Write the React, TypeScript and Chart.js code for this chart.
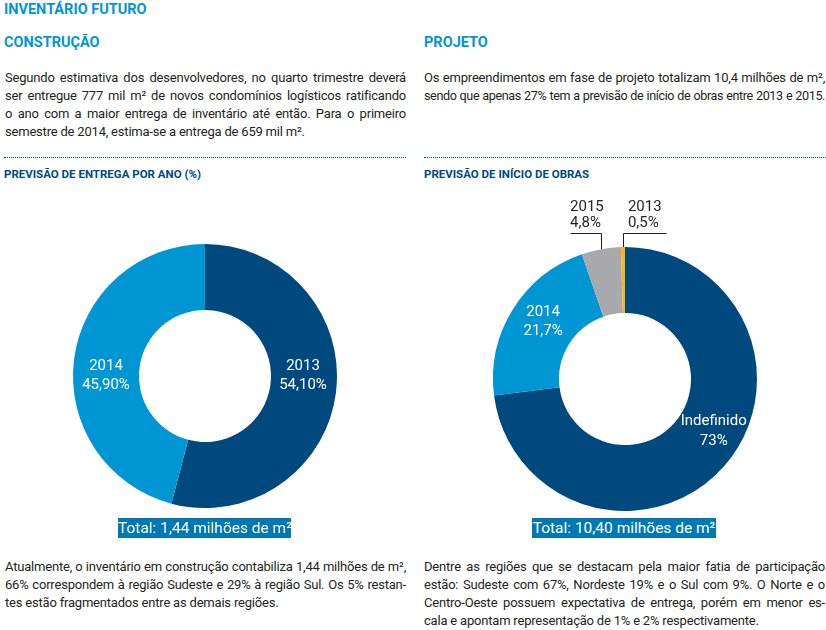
import React, { useEffect, useRef } from "react";
import { Chart, registerables } from "chart.js";

Chart.register(...registerables);

// ---------- data ----------
const entregaLabels = ["2013", "2014"];
const entregaValues = [54.1, 45.9];
const entregaDisplay = ["54,10%", "45,90%"];

const inicioLabels = ["Indefinido", "2014", "2015", "2013"];
const inicioValues = [73, 21.7, 4.8, 0.5];
const inicioDisplay = ["73%", "21,7%", "4,8%", "0,5%"];

const entregaTotal = "Total: 1,44 milhões de m²";
const inicioTotal = "Total: 10,40 milhões de m²";

// ---------- styles ----------
const DARK = "#00497f";
const LIGHT = "#0096d3";
const GRAY = "#a7a9ac";
const ORANGE = "#fbb519";
const BOX = "#0079b2";
const TEXT = "#231f20";
const FONT = "Roboto, 'Noto Sans', sans-serif";

type Placement =
  | { mode: "inside"; angle?: number; radius?: number; gap: number }
  | { mode: "callout"; side: number; reach: number; rise: number };

function labelPlugin(labels: string[], display: string[], placements: Placement[]) {
  return {
    id: "sliceLabels",
    afterDatasetsDraw(chart: any) {
      const meta = chart.getDatasetMeta(0);
      const ctx: CanvasRenderingContext2D = chart.ctx;
      meta.data.forEach((arc: any, i: number) => {
        const p = placements[i];
        if (!p) return;
        const { x, y, startAngle, endAngle, innerRadius, outerRadius } = arc.getProps(
          ["x", "y", "startAngle", "endAngle", "innerRadius", "outerRadius"],
          true
        );
        const mid = (startAngle + endAngle) / 2;
        ctx.save();
        ctx.font = `15px ${FONT}`;
        if (p.mode === "inside") {
          const a = p.angle !== undefined ? ((p.angle - 90) * Math.PI) / 180 : mid;
          const r = p.radius ?? (innerRadius + outerRadius) / 2;
          const cx = x + r * Math.cos(a);
          const cy = y + r * Math.sin(a);
          ctx.fillStyle = "#ffffff";
          ctx.textAlign = "center";
          ctx.textBaseline = "middle";
          ctx.fillText(labels[i], cx, cy - p.gap / 2);
          ctx.fillText(display[i], cx, cy + p.gap / 2);
        } else {
          const ex = x + outerRadius * Math.cos(mid);
          const ey = y + outerRadius * Math.sin(mid);
          const ty = y - outerRadius - p.rise;
          ctx.strokeStyle = TEXT;
          ctx.lineWidth = 1;
          ctx.beginPath();
          ctx.moveTo(Math.round(ex) + 0.5, ey);
          ctx.lineTo(Math.round(ex) + 0.5, Math.round(ty) + 0.5);
          ctx.lineTo(Math.round(ex) + 0.5 + p.side * p.reach, Math.round(ty) + 0.5);
          ctx.stroke();
          ctx.fillStyle = TEXT;
          ctx.textAlign = "left";
          ctx.textBaseline = "alphabetic";
          const tx = p.side < 0 ? ex - p.reach : ex + 5;
          ctx.fillText(labels[i], tx, ty - 22);
          ctx.fillText(display[i], tx, ty - 6);
        }
        ctx.restore();
      });
    },
  };
}

interface DonutProps {
  labels: string[];
  values: number[];
  display: string[];
  colors: string[];
  placements: Placement[];
  padding: { top: number; bottom: number; left: number; right: number };
  left: number;
  top: number;
  width: number;
  height: number;
}

function Donut(props: DonutProps) {
  const ref = useRef<HTMLCanvasElement>(null);
  useEffect(() => {
    const chart = new Chart(ref.current!, {
      type: "doughnut",
      data: {
        labels: props.labels,
        datasets: [
          {
            data: props.values,
            backgroundColor: props.colors,
            borderWidth: 0,
          },
        ],
      },
      options: {
        responsive: false,
        animation: false,
        cutout: "50%",
        layout: { padding: props.padding },
        plugins: { legend: { display: false }, tooltip: { enabled: false } },
      },
      plugins: [labelPlugin(props.labels, props.display, props.placements)],
    } as any);
    return () => chart.destroy();
  }, []);
  return (
    <canvas
      ref={ref}
      width={props.width}
      height={props.height}
      style={{
        position: "absolute",
        left: props.left,
        top: props.top,
        width: props.width,
        height: props.height,
      }}
    />
  );
}

type Line = { text: string; justify: boolean; tight?: boolean };

function Para({ lines, left, top }: { lines: Line[]; left: number; top: number }) {
  return (
    <div
      style={{
        position: "absolute",
        left,
        top,
        width: 401,
        fontFamily: FONT,
        fontSize: 13,
        lineHeight: "18px",
        letterSpacing: "-0.2px",
        color: TEXT,
      }}
    >
      {lines.map((l, i) => (
        <div
          key={i}
          style={{
            whiteSpace: "nowrap",
            textAlign: l.justify ? "justify" : "left",
            textAlignLast: l.justify ? "justify" : "left",
            ...(l.tight ? { fontSize: 12.6, letterSpacing: "-0.4px" } : {}),
          }}
        >
          {l.text}
        </div>
      ))}
    </div>
  );
}

const abs = (left: number, top: number, extra: React.CSSProperties = {}): React.CSSProperties => ({
  position: "absolute",
  left,
  top,
  whiteSpace: "nowrap",
  fontFamily: FONT,
  ...extra,
});

const h1: React.CSSProperties = { fontSize: 14.5, lineHeight: "14.5px", fontWeight: 700, color: LIGHT };
const h2: React.CSSProperties = { fontSize: 11.5, lineHeight: "11.5px", fontWeight: 700, color: DARK };
const rule: React.CSSProperties = { width: 402, height: 0, borderTop: `1px dotted ${DARK}` };
const totalBox: React.CSSProperties = {
  height: 20,
  background: BOX,
  color: "#ffffff",
  fontSize: 15.5,
  lineHeight: "20px",
  textAlign: "center",
};

export default function App() {
  return (
    <div style={{ position: "absolute", left: 0, top: 0, width: 826, height: 630, background: "#fff", overflow: "hidden" }}>
      <div style={abs(4, 3, h1)}>INVENTÁRIO FUTURO</div>
      <div style={abs(4, 35.5, h1)}>CONSTRUÇÃO</div>
      <div style={abs(424, 35.5, h1)}>PROJETO</div>

      <Para
        left={5}
        top={68.5}
        lines={[
          { text: "Segundo estimativa dos desenvolvedores, no quarto trimestre deverá", justify: true },
          { text: "ser entregue 777 mil m² de novos condomínios logísticos ratificando", justify: true },
          { text: "o ano com a maior entrega de inventário até então. Para o primeiro", justify: true },
          { text: "semestre de 2014, estima-se a entrega de 659 mil m².", justify: false },
        ]}
      />
      <Para
        left={424}
        top={68.5}
        lines={[
          { text: "Os empreendimentos em fase de projeto totalizam 10,4 milhões de m²,", justify: true },
          { text: "sendo que apenas 27% tem a previsão de início de obras entre 2013 e 2015.", justify: true, tight: true },
        ]}
      />

      <div style={abs(4, 157, rule)} />
      <div style={abs(424, 157, rule)} />
      <div style={abs(4, 168.5, h2)}>PREVISÃO DE ENTREGA POR ANO (%)</div>
      <div style={abs(424, 168.5, h2)}>PREVISÃO DE INÍCIO DE OBRAS</div>

      <Donut
        labels={entregaLabels}
        values={entregaValues}
        display={entregaDisplay}
        colors={[DARK, LIGHT]}
        placements={[
          { mode: "inside", angle: 90, radius: 98, gap: 19 },
          { mode: "inside", angle: 270, radius: 99, gap: 19 },
        ]}
        padding={{ top: 18, bottom: 18, left: 18, right: 18 }}
        left={55}
        top={226}
        width={300}
        height={300}
      />
      <Donut
        labels={inicioLabels}
        values={inicioValues}
        display={inicioDisplay}
        colors={[DARK, LIGHT, GRAY, ORANGE]}
        placements={[
          { mode: "inside", angle: 120.5, radius: 103, gap: 20 },
          { mode: "inside", angle: 305, radius: 100, gap: 19 },
          { mode: "callout", side: -1, reach: 31, rise: 14.5 },
          { mode: "callout", side: 1, reach: 43, rise: 14.5 },
        ]}
        padding={{ top: 57, bottom: 19, left: 18, right: 18 }}
        left={475}
        top={190}
        width={300}
        height={340}
      />

      <div style={abs(118, 518, { ...totalBox, width: 173 })}>{entregaTotal}</div>
      <div style={abs(532, 518, { ...totalBox, width: 184 })}>{inicioTotal}</div>

      <Para
        left={5}
        top={557.5}
        lines={[
          { text: "Atualmente, o inventário em construção contabiliza 1,44 milhões de m²,", justify: true },
          { text: "66% correspondem à região Sudeste e 29% à região Sul. Os 5% restan-", justify: true },
          { text: "tes estão fragmentados entre as demais regiões.", justify: false },
        ]}
      />
      <Para
        left={424}
        top={557.5}
        lines={[
          { text: "Dentre as regiões que se destacam pela maior fatia de participação", justify: true },
          { text: "estão: Sudeste com 67%, Nordeste 19% e o Sul com 9%. O Norte e o", justify: true },
          { text: "Centro-Oeste possuem expectativa de entrega, porém em menor es-", justify: true },
          { text: "cala e apontam representação de 1% e 2% respectivamente.", justify: false },
        ]}
      />
    </div>
  );
}
